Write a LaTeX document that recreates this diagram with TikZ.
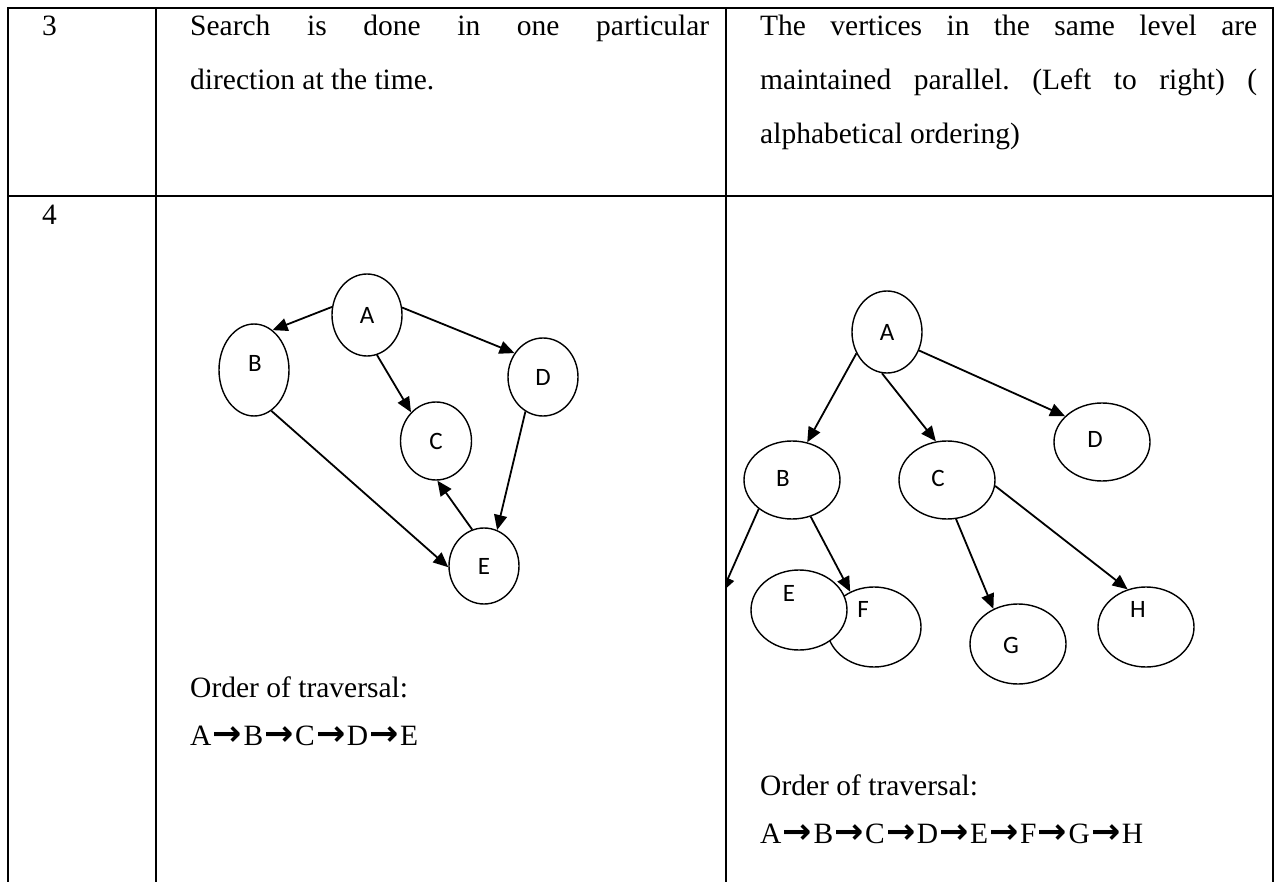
\documentclass[tikz,border=0pt]{standalone}
\usepackage{fontspec}
\setmainfont{Liberation Serif}
\newfontfamily\lblfont{Carlito}
\newfontfamily\arrfont{DejaVu Sans}
\usetikzlibrary{shapes.geometric,arrows.meta}
\newcommand{\tarr}{\makebox[32pt]{\arrfont\bfseries\fontsize{35}{35}\selectfont →}}
\frenchspacing

\begin{document}
\begin{tikzpicture}[x=1pt, y=-1pt,
    vert/.style={draw, ellipse, line width=1.4pt, fill=white, inner sep=0pt,
        font=\lblfont\fontsize{25}{25}\selectfont},
    every label/.style={inner sep=0pt, font=\lblfont\fontsize{25}{25}\selectfont},
    edge/.style={line width=1.8pt, -{Triangle[length=15pt,width=13pt]}},
    txt/.style={anchor=base west, inner sep=0pt, font=\fontsize{29.5}{30}\selectfont}]
    \useasboundingbox (0,0) rectangle (1277,882);

    % Строка 3
    \node[txt] (n3) at (42,36) {3};
    \node[txt] (s1) at (190,36) {\makebox[519pt][s]{Search is done in one particular}};
    \node[txt] (s2) at (190,90) {direction at the time.};
    \node[txt] (p1) at (760,36) {\makebox[497pt][s]{The vertices in the same level are}};
    \node[txt] (p2) at (760,90) {\makebox[497pt][s]{maintained parallel. (Left to right) (}};
    \node[txt] (p3) at (760,144) {alphabetical ordering)};

    % Строка 4
    \node[txt] (n4) at (42,225) {4};

    % Граф слева (в глубину)
    \node[vert, minimum width=70pt, minimum height=82pt] (la) at (367,315) {A};
    \node[vert, minimum width=70pt, minimum height=92pt,
        label={[xshift=1pt,yshift=7pt]center:B}] (lb) at (254,370) {};
    \node[vert, minimum width=71pt, minimum height=78pt] (lc) at (436,441) {C};
    \node[vert, minimum width=70pt, minimum height=78pt] (ld) at (543,377) {D};
    \node[vert, minimum width=70pt, minimum height=76pt] (le) at (484,566) {E};
    \draw[edge] (la.167) -- (lb.65);
    \draw[edge] (la.-76) -- (lc.131);
    \draw[edge] (la.12) -- (ld.140);
    \draw[edge] (ld.243) -- (le.70);
    \draw[edge] (lb.-67) -- (le.182);
    \draw[edge] (le.108) -- (lc.272);

    % Граф справа (в ширину)
    \node[vert, minimum width=70pt, minimum height=82pt] (ra) at (887,332) {A};
    \node[vert, minimum width=96pt, minimum height=78pt,
        label={[xshift=-9pt,yshift=2pt]center:B}] (rb) at (792,480) {};
    \node[vert, minimum width=96pt, minimum height=78pt,
        label={[xshift=-9pt,yshift=2pt]center:C}] (rc) at (947,480) {};
    \node[vert, minimum width=96pt, minimum height=78pt,
        label={[xshift=-7pt,yshift=3pt]center:D}] (rd) at (1102,442) {};
    \node[vert, minimum width=94pt, minimum height=80pt,
        label={[xshift=-11pt,yshift=18pt]center:F}] (rf) at (874,627) {};
    \node[vert, minimum width=96pt, minimum height=80pt,
        label={[xshift=-10pt,yshift=17pt]center:E}] (re) at (799,610) {};
    \node[vert, minimum width=96pt, minimum height=80pt,
        label={[xshift=-7pt,yshift=-1pt]center:G}] (rg) at (1018,644) {};
    \node[vert, minimum width=96pt, minimum height=80pt,
        label={[xshift=-8pt,yshift=18pt]center:H}] (rh) at (1146,627) {};
    \coordinate (cut) at (722,592);
    \draw[edge] (ra.215) -- (rb.68);
    \draw[edge] (ra.263) -- (rc.106);
    \draw[edge] (ra.330) -- (rd.145);
    \begin{scope}
        \clip (726,0) rectangle (1277,882);
        \draw[edge] (rb.221) -- (cut);
    \end{scope}
    \draw[edge] (rb.297) -- (rf.124);
    \draw[edge] (rc.283) -- (rg.125);
    \draw[edge] (rc.353) -- (rh.116);

    % Порядок обхода
    \node[txt] (o1) at (190,697) {Order of traversal:};
    \node[txt] (t1) at (190,745) {A\tarr B\tarr C\tarr D\tarr E};
    \node[txt] (o2) at (760,795) {Order of traversal:};
    \node[txt] (t2) at (760,843) {A\tarr B\tarr C\tarr D\tarr E\tarr F\tarr G\tarr H};

    % Линии таблицы
    \draw[line width=2pt] (8,882) -- (8,7.7) -- (1273,7.7) -- (1273,882);
    \draw[line width=2pt] (8,196) -- (1273,196);
    \draw[line width=2pt] (156,7.7) -- (156,882);
    \draw[line width=2pt] (726,7.7) -- (726,882);
\end{tikzpicture}
\end{document}
